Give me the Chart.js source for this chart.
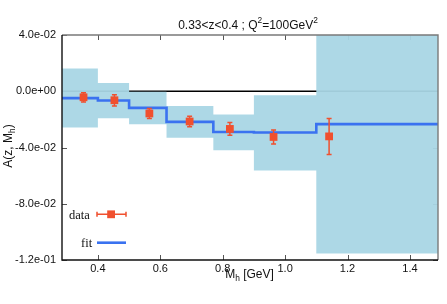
<!DOCTYPE html>
<html>
<head>
<meta charset="utf-8">
<script src="https://cdn.jsdelivr.net/npm/chart.js@4.4.0/dist/chart.umd.min.js"></script>
<style>
  html, body { margin: 0; padding: 0; background: #fff; }
  #wrap { width: 447px; height: 304px; }
</style>
</head>
<body>
<div id="wrap"><canvas id="myChart" width="447" height="304"></canvas></div>
<script>
/* data */
const binEdges   = [0.285, 0.40, 0.50, 0.62, 0.77, 0.90, 1.10, 1.49];
const fitValues  = [-0.0049, -0.0066, -0.0118, -0.0218, -0.0290, -0.0293, -0.0234];
const bandUpper  = [0.0161, 0.0059, -0.0003, -0.0104, -0.0166, -0.0028, 0.065];
const bandLower  = [-0.0257, -0.0192, -0.0235, -0.0330, -0.0420, -0.0563, -0.1153];
const dataX      = [0.354, 0.453, 0.565, 0.694, 0.823, 0.963, 1.141];
const dataY      = [-0.0043, -0.0064, -0.0158, -0.0215, -0.0268, -0.0325, -0.0321];
const dataErr    = [0.0033, 0.0040, 0.0035, 0.0038, 0.0045, 0.0050, 0.0128];
const xTicks     = [0.4, 0.6, 0.8, 1.0, 1.2, 1.4];
const yTicks     = [0.04, 0, -0.04, -0.08, -0.12];

const red = '#f0502f';
const blue = '#3a72f0';
const bandColor = 'rgba(169, 214, 229, 0.95)';
const sans = '"Liberation Sans", Arial, Helvetica, sans-serif';
const serif = '"Liberation Serif", "Times New Roman", serif';

// step line: one point per bin edge, last value repeated at the end
function stepPoints(values) {
  return binEdges.map((x, i) => ({ x: x, y: values[Math.min(i, values.length - 1)] }));
}

function sci(v) {
  const s = Number(v).toExponential(1);
  const parts = s.split('e');
  const sign = parts[1][0] === '-' ? '-' : '+';
  return parts[0] + 'e' + sign + parts[1].replace(/[+-]/, '').padStart(2, '0');
}

// draw a run of [text, mode] pieces, mode: 0 normal, 1 superscript, -1 subscript
function drawPieces(ctx, pieces, x, y, size, align) {
  const widths = pieces.map(p => {
    ctx.font = (p[1] ? size * 0.7 : size) + 'px ' + sans;
    return ctx.measureText(p[0]).width;
  });
  const total = widths.reduce((a, b) => a + b, 0);
  let cx = align === 'center' ? x - total / 2 : x;
  pieces.forEach((p, i) => {
    ctx.font = (p[1] ? size * 0.7 : size) + 'px ' + sans;
    const dy = p[1] === 1 ? -size * 0.42 : (p[1] === -1 ? size * 0.28 : 0);
    ctx.fillText(p[0], cx, y + dy);
    cx += widths[i];
  });
}

const frame = {
  id: 'frame',
  beforeDatasetsDraw(chart) {
    const { ctx, chartArea: a, scales } = chart;
    ctx.save();
    ctx.strokeStyle = '#555';
    ctx.lineWidth = 1;
    ctx.beginPath();
    xTicks.forEach(v => {
      const px = Math.round(scales.x.getPixelForValue(v)) + 0.5;
      ctx.moveTo(px, a.bottom); ctx.lineTo(px, a.bottom - 5);
      ctx.moveTo(px, a.top); ctx.lineTo(px, a.top + 5);
    });
    yTicks.forEach(v => {
      const py = Math.round(scales.y.getPixelForValue(v)) + 0.5;
      ctx.moveTo(a.left, py); ctx.lineTo(a.left + 5, py);
      ctx.moveTo(a.right, py); ctx.lineTo(a.right - 5, py);
    });
    ctx.stroke();
    ctx.restore();
  },
  afterDatasetsDraw(chart) {
    const { ctx, scales } = chart;
    ctx.save();
    ctx.strokeStyle = red;
    ctx.lineWidth = 1.5;
    ctx.beginPath();
    dataX.forEach((x, i) => {
      const px = scales.x.getPixelForValue(x);
      const top = scales.y.getPixelForValue(dataY[i] + dataErr[i]);
      const bot = scales.y.getPixelForValue(dataY[i] - dataErr[i]);
      ctx.moveTo(px, top); ctx.lineTo(px, bot);
      ctx.moveTo(px - 2.5, top); ctx.lineTo(px + 2.5, top);
      ctx.moveTo(px - 2.5, bot); ctx.lineTo(px + 2.5, bot);
    });
    ctx.stroke();
    ctx.restore();
  },
  afterDraw(chart) {
    const { ctx, chartArea: a } = chart;
    ctx.save();
    // frame
    ctx.lineWidth = 1.4;
    ctx.strokeStyle = '#7a7a7a';
    ctx.beginPath();
    ctx.moveTo(a.left, a.top); ctx.lineTo(a.right, a.top); ctx.lineTo(a.right, a.bottom);
    ctx.stroke();
    ctx.strokeStyle = '#111';
    ctx.beginPath();
    ctx.moveTo(a.left, a.top); ctx.lineTo(a.left, a.bottom); ctx.lineTo(a.right, a.bottom);
    ctx.stroke();

    // titles
    ctx.fillStyle = '#111';
    ctx.textBaseline = 'alphabetic';
    ctx.textAlign = 'left';
    drawPieces(ctx, [['0.33<z<0.4 ; Q', 0], ['2', 1], ['=100GeV', 0], ['2', 1]], 248, 28.5, 12, 'center');
    drawPieces(ctx, [['M', 0], ['h', -1], [' [GeV]', 0]], 249.5, 278, 12, 'center');
    ctx.save();
    ctx.translate(11.5, 146);
    ctx.rotate(-Math.PI / 2);
    drawPieces(ctx, [['A(z, M', 0], ['h', -1], [')', 0]], 0, 0, 12, 'center');
    ctx.restore();

    // legend
    ctx.font = '12.5px ' + serif;
    ctx.fillStyle = '#111';
    ctx.fillText('data', 69, 218.5);
    ctx.fillText('fit', 81, 246.5);
    ctx.strokeStyle = red;
    ctx.lineWidth = 1.5;
    ctx.beginPath();
    ctx.moveTo(97, 214.3); ctx.lineTo(126, 214.3);
    ctx.moveTo(97, 211.8); ctx.lineTo(97, 216.8);
    ctx.moveTo(126, 211.8); ctx.lineTo(126, 216.8);
    ctx.stroke();
    ctx.fillStyle = red;
    ctx.fillRect(107.2, 210.4, 7.8, 7.8);
    ctx.strokeStyle = blue;
    ctx.lineWidth = 2.6;
    ctx.beginPath();
    ctx.moveTo(97, 242.7); ctx.lineTo(126, 242.7);
    ctx.stroke();
    ctx.restore();
  }
};

const ctx = document.getElementById('myChart');

new Chart(ctx, {
  type: 'scatter',
  data: {
    datasets: [
      {
        label: 'data',
        data: dataX.map((x, i) => ({ x: x, y: dataY[i] })),
        pointStyle: 'rect',
        pointRadius: 5.5,
        pointHoverRadius: 5.5,
        backgroundColor: red,
        borderWidth: 0,
        showLine: false
      },
      {
        label: 'fit',
        type: 'line',
        data: stepPoints(fitValues),
        stepped: true,
        borderColor: blue,
        borderWidth: 2.6,
        pointRadius: 0,
        fill: false
      },
      {
        label: 'band',
        type: 'line',
        data: stepPoints(bandUpper),
        stepped: true,
        borderColor: 'rgba(0,0,0,0)',
        borderWidth: 1,
        pointRadius: 0,
        backgroundColor: bandColor,
        fill: '+1',
        clip: 0
      },
      {
        label: 'band low',
        type: 'line',
        data: stepPoints(bandLower),
        stepped: true,
        borderColor: 'rgba(0,0,0,0)',
        borderWidth: 1,
        pointRadius: 0,
        fill: false,
        clip: 0
      },
      {
        label: 'zero',
        type: 'line',
        data: [{ x: binEdges[0], y: 0 }, { x: binEdges[binEdges.length - 1], y: 0 }],
        borderColor: '#000',
        borderWidth: 1.3,
        pointRadius: 0,
        fill: false
      }
    ]
  },
  options: {
    responsive: false,
    animation: false,
    devicePixelRatio: 1,
    events: [],
    layout: { padding: { left: 0, right: 9, top: 35, bottom: 0 } },
    plugins: {
      legend: { display: false },
      title: { display: false },
      tooltip: { enabled: false }
    },
    scales: {
      x: {
        type: 'linear',
        min: binEdges[0],
        max: binEdges[binEdges.length - 1],
        afterBuildTicks: s => { s.ticks = xTicks.map(v => ({ value: v })); },
        afterFit: s => { s.height = 44; },
        grid: { display: false, drawTicks: false },
        border: { display: false },
        ticks: {
          padding: 2,
          color: '#111',
          maxRotation: 0,
          autoSkip: false,
          font: { family: sans, size: 11 },
          callback: v => Number(v).toFixed(1)
        }
      },
      y: {
        type: 'linear',
        min: -0.12,
        max: 0.04,
        afterBuildTicks: s => { s.ticks = yTicks.map(v => ({ value: v })); },
        afterFit: s => { s.width = 62; },
        grid: { display: false, drawTicks: false },
        border: { display: false },
        ticks: {
          padding: 6,
          color: '#111',
          autoSkip: false,
          font: { family: sans, size: 11 },
          callback: v => sci(v)
        }
      }
    }
  },
  plugins: [frame]
});
</script>
</body>
</html>
